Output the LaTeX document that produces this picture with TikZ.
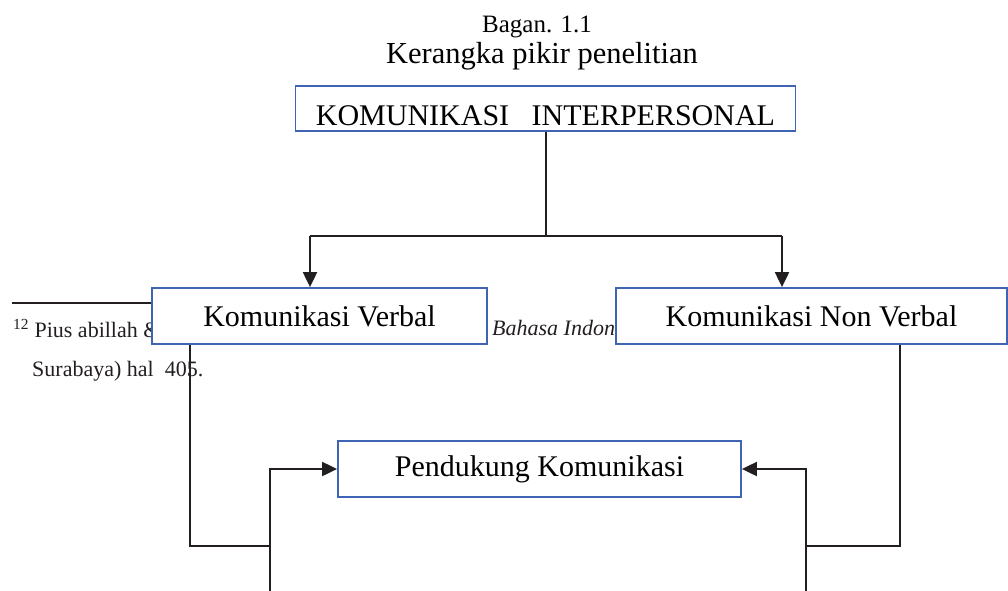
\documentclass[tikz,border=0pt]{standalone}
\usepackage{fontspec}
\setmainfont{Liberation Serif}
\usepackage{tikz}
\usetikzlibrary{arrows.meta, positioning, calc}
\definecolor{boxblue}{HTML}{3F63B5}
\definecolor{inkblack}{HTML}{231F20}

\begin{document}
\begin{tikzpicture}[
    x=1pt, y=-1pt,
    block/.style={rectangle, draw=boxblue, line width=1.8pt, fill=white, inner sep=0pt, text centered, font=\fontsize{30}{36}\selectfont},
    link/.style={draw=inkblack, line width=2pt},
    arr/.style={link, -{Triangle[length=15pt, width=14pt]}},
    note/.style={inner sep=0pt, anchor=base west, font=\fontsize{22}{26}\selectfont, text=inkblack}
]
\useasboundingbox (0,0) rectangle (1008,590);

% Judul
\node[anchor=base, inner sep=0pt, font=\fontsize{25}{30}\selectfont] (bagan) at (537,32) {Bagan. 1.1};
\node[anchor=base, inner sep=0pt, font=\fontsize{30.5}{36}\selectfont] (judul) at (542,63) {Kerangka pikir penelitian};

% Catatan kaki (tertutup kotak)
\coordinate (rulea) at (12,303);
\coordinate (ruleb) at (152,303);
\draw[inkblack, line width=1.2pt] (rulea) -- (ruleb);
\node[note] (fnone) at (13,337) {\textsuperscript{12} Pius abillah \&};
\node[note, font=\fontsize{22}{26}\selectfont\itshape] (fnbhs) at (492,335) {Bahasa Indon};
\node[note] (fntwo) at (32,376) {Surabaya) hal\ \ 405.};

% Kotak
\node[block, minimum width=500pt, minimum height=45pt, text height=33pt, text depth=0pt] (kip) at (545.5,108.5) {KOMUNIKASI\ \ \ INTERPERSONAL};
\node[block, minimum width=335pt, minimum height=56pt] (verbal) at (319.5,316) {Komunikasi Verbal};
\node[block, minimum width=391pt, minimum height=56pt] (nonverbal) at (811.5,316) {Komunikasi Non Verbal};
\node[block, minimum width=403pt, minimum height=56pt] (pendukung) at (539.5,469) {Pendukung Komunikasi};

% Cabang atas
\coordinate (split) at (545.5,236);
\coordinate (lft) at (310,236);
\coordinate (rgt) at (782,236);
\draw[link] (kip.south) -- (split);
\draw[link] (lft) -- (rgt);
\draw[arr] (lft) -- (lft |- verbal.north);
\draw[arr] (rgt) -- (rgt |- nonverbal.north);

% Jalur kiri
\coordinate (vb) at (190,546);
\coordinate (vj) at (270,546);
\coordinate (lb) at (270,592);
\draw[link] (verbal.south -| vb) -- (vb) -- (vj);
\draw[arr] (lb) |- (pendukung.west);

% Jalur kanan
\coordinate (nb) at (900,546);
\coordinate (nj) at (806,546);
\coordinate (rb) at (806,592);
\draw[link] (nonverbal.south -| nb) -- (nb) -- (nj);
\draw[arr] (rb) |- (pendukung.east);
\end{tikzpicture}
\end{document}
